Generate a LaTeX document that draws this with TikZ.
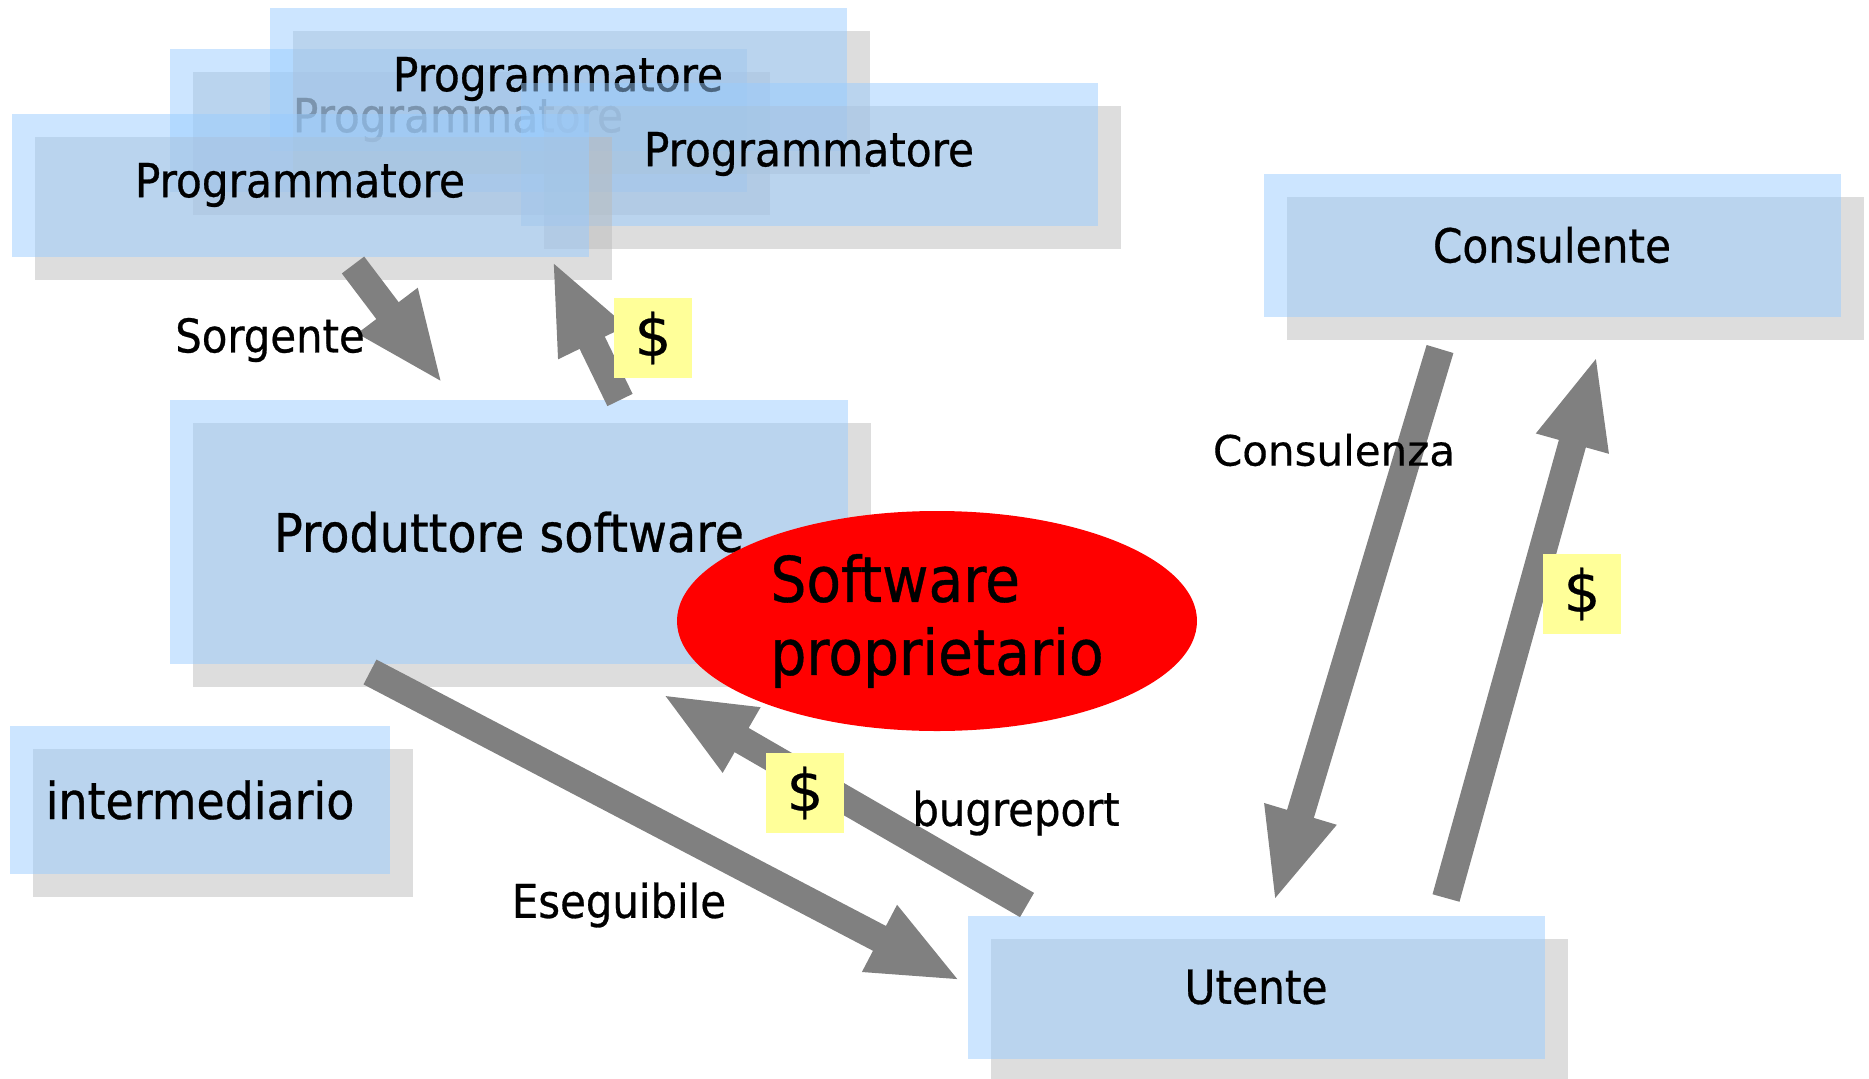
\documentclass[tikz,border=0pt]{standalone}
\usepackage{fontspec}
\setmainfont{DejaVu Sans}[FakeBold=0.4]
\newfontfamily\cond{DejaVu Sans Condensed}[FakeBold=0.6]
\usetikzlibrary{arrows.meta,shadows,shapes.geometric}
\definecolor{boxblue}{HTML}{99CCFF}
\definecolor{shadowgray}{HTML}{BBBBBB}
\definecolor{arrowgray}{HTML}{808080}
\definecolor{payyellow}{HTML}{FFFF99}
\tikzset{
  role/.style={rectangle,inner sep=0pt,outer sep=0pt,fill=boxblue,fill opacity=0.5,text opacity=1,
    minimum width=577pt,minimum height=143pt,font=\cond\fontsize{47}{56}\selectfont,
    general shadow={fill=shadowgray,fill opacity=0.5,shadow xshift=23pt,shadow yshift=-23pt}},
  flow/.style={draw=arrowgray,line width=28pt,-{Triangle[width=68pt,length=92pt]}},
  pay/.style={rectangle,fill=payyellow,inner sep=0pt,minimum width=78pt,minimum height=80pt,
    font=\fontsize{58}{60}\selectfont},
  lbl/.style={inner sep=0pt,font=\cond\fontsize{46.5}{56}\selectfont}
}
\begin{document}
\begin{tikzpicture}[x=1pt,y=-1pt]
\useasboundingbox (0,0) rectangle (1869,1079);
\node[role] (prog2) at (458,120) {Programmatore};
\node[role] (prog1) at (558,79) {Programmatore};
\node[role] (prog3) at (809,154) {Programmatore};
\node[role] (prog4) at (300,185) {Programmatore};
\node[role] (cons) at (1552,245) {Consulente};
\node[role,minimum width=678pt,minimum height=264pt,font=\cond\fontsize{53}{60}\selectfont] (prod) at (509,532) {Produttore software};
\node[role,minimum width=380pt,minimum height=148pt,font=\cond\fontsize{51}{60}\selectfont] (inter) at (200,800) {intermediario};
\node[role] (user) at (1256,987) {Utente};
\node[ellipse,fill=red,inner sep=0pt,minimum width=520pt,minimum height=220pt,align=left,
  font=\cond\fontsize{63}{73}\selectfont] (sw) at (937,621) {Software\\proprietario};
\coordinate (srcA) at (353,265);
\coordinate (srcB) at (443,384);
\coordinate (payA) at (620,400);
\coordinate (payB) at (552,260);
\coordinate (exeA) at (370,672);
\coordinate (exeB) at (961,981);
\coordinate (bugA) at (1027,905);
\coordinate (bugB) at (662,694);
\coordinate (conA) at (1440,349);
\coordinate (conB) at (1274,902);
\coordinate (feeA) at (1446,898);
\coordinate (feeB) at (1597,355);
\draw[flow] (srcA) -- (srcB);
\draw[flow] (payA) -- (payB);
\draw[flow] (exeA) -- (exeB);
\draw[flow] (bugA) -- (bugB);
\draw[flow] (conA) -- (conB);
\draw[flow] (feeA) -- (feeB);
\node[pay] (d1) at (653,338) {\$};
\node[pay] (d2) at (805,793) {\$};
\node[pay] (d3) at (1582,594) {\$};
\node[lbl] (sorg) at (270,340) {Sorgente};
\node[lbl,font=\fontsize{42}{50}\selectfont] (cnz) at (1334,450) {Consulenza};
\node[lbl] (bug) at (1016,813) {bugreport};
\node[lbl] (ese) at (619,905) {Eseguibile};
\end{tikzpicture}
\end{document}
